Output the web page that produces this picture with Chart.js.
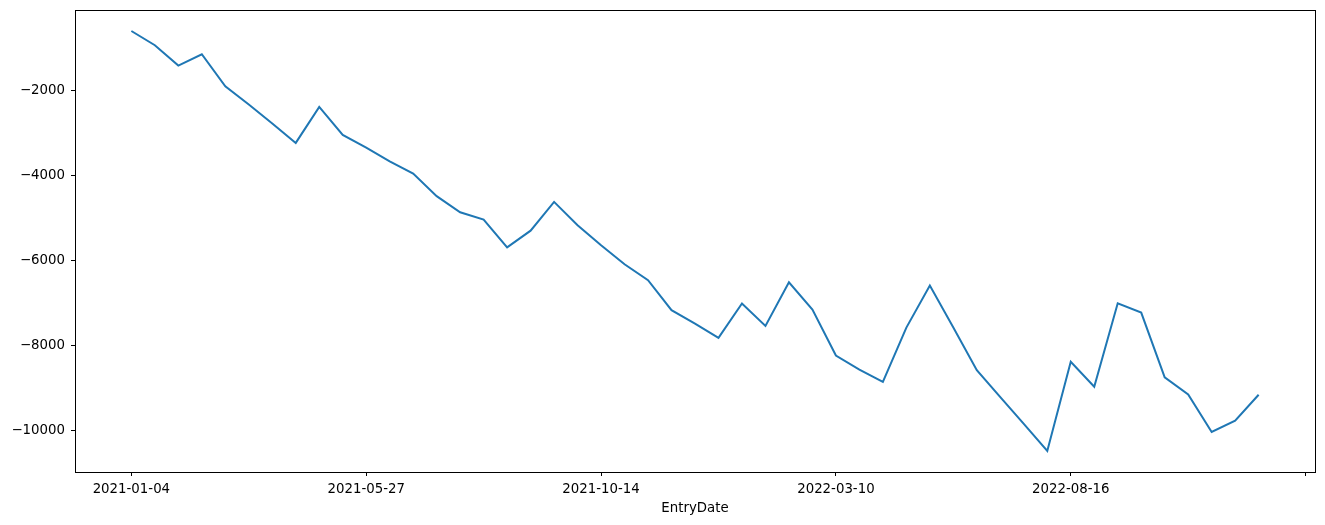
<!DOCTYPE html>
<html>
<head>
<meta charset="utf-8">
<script src="https://cdn.jsdelivr.net/npm/chart.js@4/dist/chart.umd.min.js"></script>
<style>
  html, body { margin: 0; padding: 0; background: #fff; }
  canvas { display: block; }
</style>
</head>
<body>
<canvas id="c" width="1325" height="525"></canvas>
<script>
// ---- data ----
const tickLabels = ['2021-01-04', '2021-05-27', '2021-10-14', '2022-03-10', '2022-08-16', ''];
const xTickIndices = [0, 10, 20, 30, 40, 50];
const yTickValues = [-10000, -8000, -6000, -4000, -2000];
const values = [
  -608, -942, -1420, -1154, -1906, -2337, -2783, -3238, -2392, -3050,
  -3347, -3670, -3960, -4490, -4868, -5040, -5692, -5300, -4624, -5173,
  -5643, -6090, -6465, -7170, -7483, -7820, -7013, -7539, -6512, -7155,
  -8235, -8564, -8855, -7578, -6590, -7578, -8580, -9210, -9840, -10478,
  -8380, -8967, -7007, -7226, -8749, -9150, -10032, -9765, -9157
];
const xTitle = 'EntryDate';

// ---- chart ----
const n = values.length;
const xMargin = (n - 1) * 0.05;
const yMin = Math.min(...values), yMax = Math.max(...values);
const yMargin = (yMax - yMin) * 0.05;
const points = values.map((v, i) => ({ x: i, y: v }));
const FONT = { family: 'DejaVu Sans', size: 13.33 };

const frame = {
  id: 'frame',
  afterDraw(chart) {
    const { ctx, chartArea: a } = chart;
    ctx.save();
    ctx.strokeStyle = '#000';
    ctx.lineWidth = 1;
    ctx.strokeRect(Math.round(a.left) + 0.5, Math.round(a.top) + 0.5,
                   Math.round(a.right - a.left), Math.round(a.bottom - a.top));
    ctx.restore();
  }
};

function noPad(s) { s.paddingTop = 0; s.paddingBottom = 0; s.paddingLeft = 0; s.paddingRight = 0; }

new Chart(document.getElementById('c'), {
  type: 'line',
  data: {
    datasets: [{
      data: points,
      borderColor: '#1f77b4',
      borderWidth: 2,
      pointRadius: 0,
      tension: 0,
      fill: false
    }]
  },
  options: {
    responsive: false,
    animation: false,
    layout: { padding: { left: 0, top: 10, right: 10, bottom: 0 } },
    plugins: { legend: { display: false }, tooltip: { enabled: false } },
    scales: {
      x: {
        type: 'linear',
        min: -xMargin,
        max: (n - 1) + xMargin,
        afterBuildTicks(s) { s.ticks = xTickIndices.map(v => ({ value: v })); },
        afterFit(s) { s.height = 53; noPad(s); },
        ticks: {
          autoSkip: false,
          maxRotation: 0,
          padding: 6,
          color: '#000',
          font: FONT,
          callback(v) { const k = xTickIndices.indexOf(v); return k >= 0 ? tickLabels[k] : ''; }
        },
        grid: { display: true, drawOnChartArea: false, drawTicks: true, tickLength: 4, color: '#000' },
        border: { display: true, color: '#000' },
        title: { display: true, text: xTitle, color: '#000', font: FONT, padding: { top: 0, bottom: 8 } }
      },
      y: {
        type: 'linear',
        min: yMin - yMargin,
        max: yMax + yMargin,
        afterBuildTicks(s) { s.ticks = yTickValues.map(v => ({ value: v })); },
        afterFit(s) { s.width = 75; noPad(s); },
        ticks: {
          padding: 6,
          color: '#000',
          font: FONT,
          callback(v) { return v < 0 ? '\u2212' + Math.abs(v) : String(v); }
        },
        grid: { display: true, drawOnChartArea: false, drawTicks: true, tickLength: 4, color: '#000' },
        border: { display: true, color: '#000' }
      }
    }
  },
  plugins: [frame]
});
</script>
</body>
</html>
